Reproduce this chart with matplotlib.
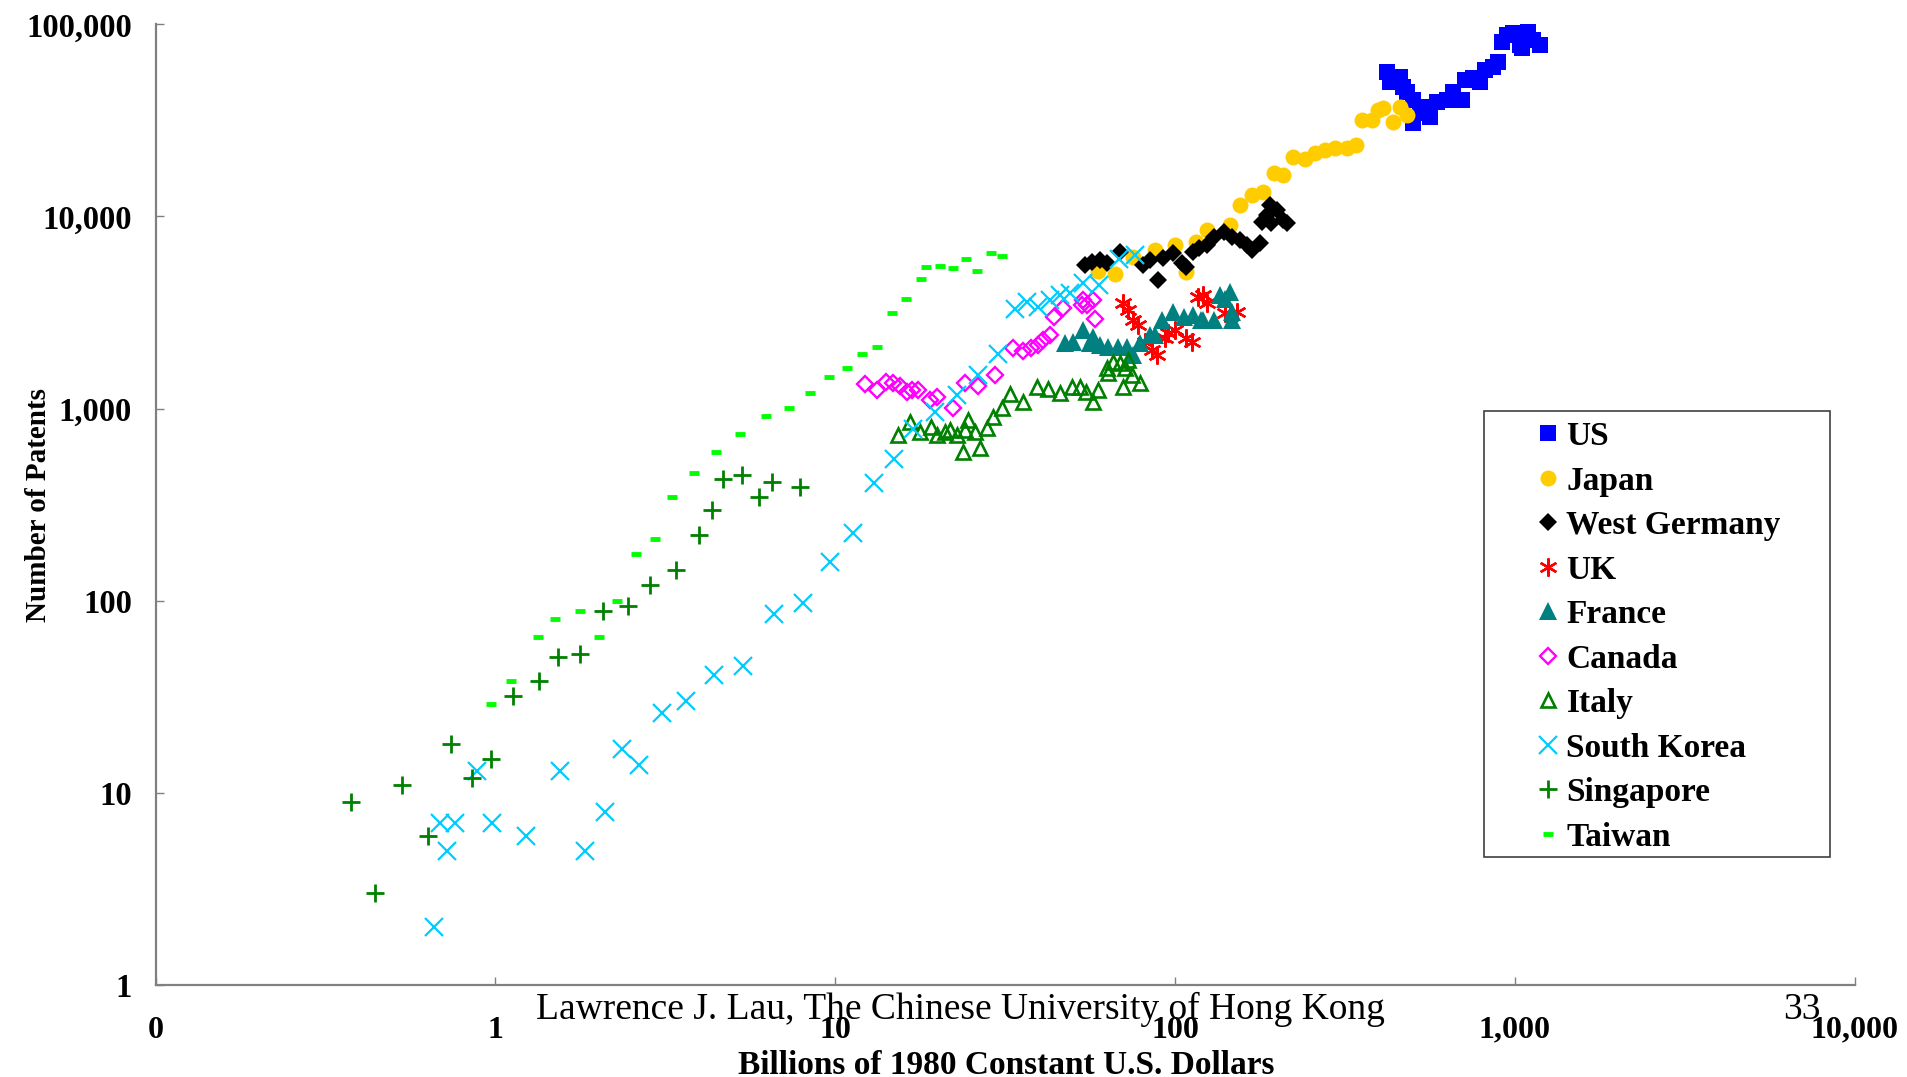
import matplotlib
matplotlib.use("Agg")
import matplotlib.pyplot as plt
from matplotlib.patches import Rectangle

plt.rcParams['font.family'] = ['Liberation Serif', 'DejaVu Serif']

# GDP (billions of 1980 US$) vs. number of patents granted
us_gdp = [420, 429, 459, 470, 481, 503, 537, 562, 503, 526, 589, 630, 659, 697, 713,
          755, 789, 817, 865, 894, 915, 946, 989, 1035, 1047, 1095, 1133, 1186, 1047]
us_pat = [56800, 50380, 53480, 47450, 44670, 40450, 37340, 33130, 30610, 34490, 39630,
          40450, 44670, 40450, 51400, 52480, 50380, 57960, 60290, 64000, 81340, 88150,
          90000, 78210, 90000, 91800, 83000, 78210, 75200]

japan_gdp = [59.4, 66.5, 75.3, 87.3, 100, 108, 115, 124, 145, 155, 168, 182, 195, 208,
             223, 241, 258, 276, 296, 320, 342, 354, 379, 396, 410, 439, 459, 481]
japan_pat = [5224, 5024, 6185, 6700, 7117, 5165, 7400, 8514, 9040, 11490, 12950, 13480,
             16800, 16470, 20500, 19870, 21520, 22220, 22680, 22680, 23590, 31840, 31840,
             35900, 36630, 31190, 37060, 33800]

germany_gdp = [54.3, 56.8, 60.1, 62.9, 68.8, 80.6, 84.4, 89.3, 92.3, 98.8, 105, 108, 113,
               118, 124, 130, 139, 147, 155, 163, 168, 178, 180, 186, 190, 199, 208, 213, 192]
germany_pat = [5598, 5826, 5943, 5711, 6569, 5598, 5943, 4677, 6066, 6440, 5711, 5483,
               6569, 6839, 7117, 7860, 8345, 7860, 7555, 7117, 6700, 7261, 9411, 10190,
               11490, 10820, 9600, 9230, 9230]

uk_gdp = [70.4, 72.8, 75.3, 77.9, 81.5, 85.3, 88.3, 93.4, 95.5, 100, 108, 112, 117, 121,
          124, 140, 152]
uk_pat = [3538, 3265, 2897, 2729, 2232, 2022, 1904, 2325, 2469, 2568, 2325, 2232, 3830,
          3908, 3538, 3139, 3170]

france_gdp = [47.4, 50.2, 53.7, 56.1, 57.5, 60.1, 63.6, 68.1, 72.1, 75.3, 78.8, 84.4, 87.3,
              91.4, 98.8, 106, 113, 119, 121, 130, 136, 140, 145, 147, 147]
france_pat = [2190, 2232, 2568, 2190, 2371, 2146, 2103, 2103, 2103, 1904, 2190, 2420, 2420,
              2897, 3199, 3013, 3075, 2897, 2897, 2897, 3908, 3723, 4064, 3199, 2897]

canada_gdp = [12.2, 13.3, 14.1, 14.8, 15.5, 16.3, 16.8, 17.5, 19.0, 20.0, 22.2, 24.1, 26.4,
              29.5, 33.4, 35.7, 37.8, 39.6, 40.9, 42.9, 44.0, 46.9, 53.1, 53.7, 55.2, 57.5,
              58.1]
canada_pat = [1344, 1251, 1382, 1357, 1318, 1226, 1251, 1251, 1110, 1155, 1005, 1357, 1318,
              1498, 2063, 1996, 2063, 2146, 2279, 2420, 3013, 3333, 3467, 3680, 3467, 3680,
              2931]

italy_gdp = [15.3, 16.6, 17.8, 19.2, 19.9, 21.0, 21.8, 22.8, 24.1, 24.6, 25.8, 23.8, 26.7,
             27.9, 29.2, 30.9, 32.7, 35.7, 39.2, 42.4, 45.8, 49.6, 52.5, 54.9, 59.4, 57.3,
             62.9, 65.8, 68.8, 71.3, 72.8, 74.5, 70.4, 78.8, 63.7]
italy_pat = [730, 856, 759, 806, 730, 759, 774, 730, 774, 873, 759, 597, 622, 791, 908,
             1005, 1192, 1080, 1302, 1267, 1212, 1302, 1302, 1226, 1251, 1080, 1624, 1757,
             1723, 1624, 1793, 1498, 1302, 1357, 1535]

korea_gdp = [0.661, 0.718, 0.687, 0.760, 0.881, 0.98, 1.23, 1.55, 1.84, 2.10, 2.36, 2.65,
             3.10, 3.64, 4.39, 5.36, 6.60, 8.04, 9.63, 11.3, 13.0, 14.9, 17.0, 19.7, 22.8,
             26.3, 30.1, 33.8, 36.6, 39.6, 42.9, 45.8, 49.1, 53.7, 59.8, 68.6, 76.4]
korea_pat = [2, 5, 7, 7, 13, 7, 6, 13, 5, 8, 17, 14, 26, 30, 41, 46, 85, 97, 160, 226, 409,
             544, 787, 958, 1171, 1498, 1916, 3304, 3607, 3396, 3680, 3908, 3990, 4497, 4405,
             6015, 6310]

singapore_gdp = [0.375, 0.441, 0.53, 0.632, 0.74, 0.855, 0.97, 1.13, 1.34, 1.53, 1.78, 2.07,
                 2.46, 2.86, 3.41, 3.97, 4.35, 4.68, 5.33, 5.98, 6.50, 7.89]
singapore_pat = [9, 3, 11, 6, 18, 12, 15, 32, 38, 51, 53, 88, 94, 121, 145, 220, 297, 429,
                 452, 348, 414, 393]

taiwan_gdp = [0.97, 1.113, 1.334, 1.50, 1.77, 2.02, 2.28, 2.60, 2.95, 3.32, 3.83, 4.47,
              5.23, 6.24, 7.29, 8.44, 9.57, 10.8, 12.0, 13.3, 14.7, 16.2, 17.9, 18.5, 20.3,
              22.2, 24.3, 26.1, 28.7, 30.9]
taiwan_pat = [29, 38, 65, 80, 88, 65, 100, 175, 210, 346, 461, 597, 738, 916, 1012, 1203,
              1462, 1634, 1919, 2088, 3139, 3740, 4732, 5448, 5532, 5383, 6015, 5190, 6468,
              6237]

x_ticks = [0.1, 1, 10, 100, 1000, 10000]
x_ticklabels = ['0', '1', '10', '100', '1,000', '10,000']
y_ticks = [1, 10, 100, 1000, 10000, 100000]
y_ticklabels = ['1', '10', '100', '1,000', '10,000', '100,000']

series = [
    ('US', us_gdp, us_pat, dict(marker='s', ms=12, color='#0000ff', mew=0)),
    ('Japan', japan_gdp, japan_pat, dict(marker='o', ms=11.5, color='#ffcc00', mew=0)),
    ('West Germany', germany_gdp, germany_pat, dict(marker='D', ms=9, color='black', mew=0)),
    ('UK', uk_gdp, uk_pat, dict(marker=(6, 2, 0), ms=13, color='#ff0000', mew=1.7)),
    ('France', france_gdp, france_pat, dict(marker='^', ms=12.5, color='#008080', mew=0)),
    ('Canada', canada_gdp, canada_pat, dict(marker='D', ms=7.8, color='#ff00ff', mfc='none', mew=1.7)),
    ('Italy', italy_gdp, italy_pat, dict(marker='^', ms=10.5, color='#008000', mfc='none', mew=1.9)),
    ('South Korea', korea_gdp, korea_pat, dict(marker='x', ms=13, color='#00ccff', mew=1.6)),
    ('Singapore', singapore_gdp, singapore_pat, dict(marker='+', ms=13, color='#008000', mew=2)),
    ('Taiwan', taiwan_gdp, taiwan_pat, dict(marker='_', ms=7, color='#00ff00', mew=3.5)),
]

fig = plt.figure(figsize=(19.07, 10.77), dpi=100)
fig.set_facecolor('white')
ax = fig.add_axes([0.0816, 0.0854, 0.8909, 0.8920])

handles = []
for name, xs, ys, style in series:
    h, = ax.plot(xs, ys, linestyle='none', label=name, **style)
    handles.append(h)

ax.set_xscale('log')
ax.set_yscale('log')
ax.set_xlim(0.1, 10000)
ax.set_ylim(1, 100000)
ax.set_xticks(x_ticks)
ax.set_xticklabels(x_ticklabels)
ax.set_yticks(y_ticks)
ax.set_yticklabels(y_ticklabels)
ax.minorticks_off()

for side in ('top', 'right'):
    ax.spines[side].set_visible(False)
for side in ('left', 'bottom'):
    ax.spines[side].set_color('#808080')
    ax.spines[side].set_linewidth(1.6)

ax.tick_params(axis='both', direction='in', length=6, width=1, color='#808080')
ax.tick_params(axis='x', pad=22, labelsize=23)
ax.tick_params(axis='y', pad=17, labelsize=23.5)
for lbl in ax.get_xticklabels() + ax.get_yticklabels():
    lbl.set_fontweight('bold')

ax.set_ylabel('Number of Patents', fontsize=21, fontweight='bold')
ax.yaxis.set_label_coords(-0.061, 0.5)
fig.text(0.5275, 0.003, 'Billions of 1980 Constant U.S. Dollars', fontsize=24,
         fontweight='bold', ha='center', va='baseline')

fig.text(0.5034, 0.054, 'Lawrence J. Lau, The Chinese University of Hong Kong',
         fontsize=27, ha='center', va='baseline')
fig.text(0.945, 0.054, '33', fontsize=27, ha='center', va='baseline')

# legend drawn without its own frame; the box is a separate rectangle
leg = ax.legend(handles=handles, loc='upper left', bbox_to_anchor=(0.8048, 0.609),
                bbox_transform=fig.transFigure, frameon=False, borderpad=0,
                borderaxespad=0, handlelength=0.8, handletextpad=0.15,
                labelspacing=0.405, prop={'family': 'Liberation Serif', 'weight': 'bold', 'size': 24})
fig.patches.append(Rectangle((1484 / 1907, 1 - 857 / 1077), (1830 - 1484) / 1907,
                             (857 - 411) / 1077, transform=fig.transFigure,
                             fill=False, edgecolor='#404040', linewidth=1.2))

fig.savefig('out.png', dpi=100, facecolor='white')
